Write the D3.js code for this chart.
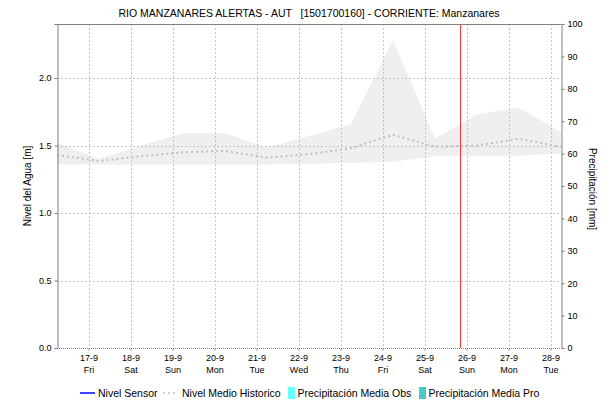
<!DOCTYPE html>
<html>
<head>
<meta charset="utf-8">
<script src="https://cdn.jsdelivr.net/npm/d3@7"></script>
<style>
html,body{margin:0;padding:0;background:#fff;}
svg{display:block;font-family:"Liberation Sans",Arial,sans-serif;}
</style>
</head>
<body>
<svg id="chart" width="613" height="404"></svg>
<script>
// ---- data ----
const dates = ["2021-09-16T06:00","2021-09-17T06:00","2021-09-18T06:00","2021-09-19T06:00","2021-09-20T06:00","2021-09-21T06:00","2021-09-22T06:00","2021-09-23T06:00","2021-09-24T06:00","2021-09-25T06:00","2021-09-26T06:00","2021-09-27T06:00","2021-09-28T06:00"];
const histMax = [1.52,1.40,1.50,1.59,1.59,1.485,1.57,1.66,2.28,1.55,1.73,1.78,1.60];
const histMin = [1.36,1.36,1.36,1.36,1.36,1.36,1.365,1.37,1.38,1.42,1.42,1.425,1.44];
const histMean = [1.43,1.385,1.42,1.45,1.46,1.41,1.435,1.48,1.58,1.49,1.50,1.55,1.49];
const tickDays = ["2021-09-17","2021-09-18","2021-09-19","2021-09-20","2021-09-21","2021-09-22","2021-09-23","2021-09-24","2021-09-25","2021-09-26","2021-09-27","2021-09-28"];
const dayNames = ["Fri","Sat","Sun","Mon","Tue","Wed","Thu","Fri","Sat","Sun","Mon","Tue"];
const levelTicks = [0,0.5,1.0,1.5,2.0];
const precipTicks = [0,10,20,30,40,50,60,70,80,90,100];
const nowTime = "2021-09-25T20:30";
const xDomain = ["2021-09-16T06:00","2021-09-28T06:00"];
const title = "RIO MANZANARES ALERTAS - AUT   [1501700160] - CORRIENTE: Manzanares";
const legendItems = [
  {label:"Nivel Sensor", type:"line"},
  {label:"Nivel Medio Historico", type:"dash"},
  {label:"Precipitación Media Obs", type:"rectObs"},
  {label:"Precipitación Media Pro", type:"rectPro"}
];

// ---- layout ----
const L = 57, R = 561, T = 24, B = 348;
const svg = d3.select("#chart");
const parse = s => new Date(s);
const x = d3.scaleTime().domain(xDomain.map(parse)).range([L, R]);
const y = d3.scaleLinear().domain([0, 2.4]).range([B, T]);
const y2 = d3.scaleLinear().domain([0, 100]).range([B, T]);

const pts = dates.map((d,i)=>({t:parse(d), max:histMax[i], min:histMin[i], mean:histMean[i]}));

// band
svg.append("path")
  .attr("d", d3.area().x(d=>x(d.t)).y0(d=>y(d.min)).y1(d=>y(d.max))(pts))
  .attr("fill", "#efefef");

// grid
const grid = svg.append("g");
grid.selectAll("line.v").data(tickDays.map(parse)).join("line")
  .attr("x1", d=>Math.round(x(d))+0.5).attr("x2", d=>Math.round(x(d))+0.5)
  .attr("y1", T).attr("y2", B)
  .attr("stroke", "#c4c4c4").attr("stroke-width", 1).attr("stroke-dasharray", "2,2");
grid.selectAll("line.h").data(levelTicks.filter(v=>v>0)).join("line")
  .attr("x1", L).attr("x2", R)
  .attr("y1", d=>Math.round(y(d))+0.5).attr("y2", d=>Math.round(y(d))+0.5)
  .attr("stroke", "#c4c4c4").attr("stroke-width", 1).attr("stroke-dasharray", "2,2");

// mean line
svg.append("path")
  .attr("d", d3.line().x(d=>x(d.t)).y(d=>y(d.mean))(pts))
  .attr("fill","none").attr("stroke","#c0c0c0").attr("stroke-width",2).attr("stroke-dasharray","2,3");

// now line
svg.append("line")
  .attr("x1", Math.round(x(parse(nowTime)))+0.5).attr("x2", Math.round(x(parse(nowTime)))+0.5)
  .attr("y1", T).attr("y2", B)
  .attr("stroke", "#ff3030").attr("stroke-width", 1);

// frame
svg.append("line").attr("x1",L).attr("x2",R).attr("y1",T+0.5).attr("y2",T+0.5).attr("stroke","#808080");
svg.append("line").attr("x1",L).attr("x2",R).attr("y1",B+0.5).attr("y2",B+0.5).attr("stroke","#808080").attr("stroke-dasharray","1,1");

// axes
const fontTick = "9px";
const axL = svg.append("g").attr("transform",`translate(${L+0.5},0)`)
  .call(d3.axisLeft(y).tickValues(levelTicks).tickFormat(d3.format(".1f")).tickSize(3).tickPadding(3));
const axR = svg.append("g").attr("transform",`translate(${R+0.5},0)`)
  .call(d3.axisRight(y2).tickValues(precipTicks).tickFormat(d3.format("d")).tickSize(3).tickPadding(3));
const axB = svg.append("g").attr("transform",`translate(0,${B+0.5})`)
  .call(d3.axisBottom(x).tickValues(tickDays.map(parse)).tickFormat(d3.timeFormat("%-d-%-m")).tickSize(2).tickPadding(4));
[axL,axR,axB].forEach(a=>{
  a.selectAll("path.domain").attr("stroke","#808080");
  a.selectAll(".tick line").attr("stroke","#808080");
  a.selectAll("text").attr("font-size",fontTick).attr("fill","#000").attr("font-family","Liberation Sans, Arial, sans-serif");
});
axB.select("path.domain").remove();
axB.selectAll(".tick text").each(function(d,i){
  const t = d3.select(this);
  t.append("tspan").attr("x",0).attr("dy","1.3em").text(dayNames[i]);
});

// title
svg.append("text").attr("x",(L+R)/2).attr("y",17).attr("text-anchor","middle")
  .attr("font-size","10.5px").style("white-space","pre").text(title);

// axis titles
svg.append("text").attr("transform",`translate(31,186) rotate(-90)`)
  .attr("text-anchor","middle").attr("font-size","10px").text("Nivel del Agua [m]");
svg.append("text").attr("transform",`translate(589,189) rotate(90)`)
  .attr("text-anchor","middle").attr("font-size","10px").text("Precipitación [mm]");

// legend
const lg = svg.append("g").attr("font-size","10.5px");
const legX = [80,163,288,419];
const ly = 393;
legendItems.forEach((it,i)=>{
  const g = lg.append("g").attr("transform",`translate(${legX[i]},${ly})`);
  if(it.type==="line"){
    g.append("line").attr("x1",0).attr("x2",15).attr("y1",0).attr("y2",0).attr("stroke","#0000ff").attr("stroke-width",1.5);
    g.append("text").attr("x",18).attr("y",4).text(it.label);
  } else if(it.type==="dash"){
    g.append("line").attr("x1",0).attr("x2",15).attr("y1",0).attr("y2",0).attr("stroke","#c0c0c0").attr("stroke-width",1.5).attr("stroke-dasharray","2,3");
    g.append("text").attr("x",19).attr("y",4).text(it.label);
  } else {
    g.append("rect").attr("x",0).attr("y",-6).attr("width",7).attr("height",12)
      .attr("fill", it.type==="rectObs" ? "#66ffff" : "#4cc8c4");
    g.append("text").attr("x",9.5).attr("y",4).text(it.label);
  }
});
</script>
</body>
</html>
